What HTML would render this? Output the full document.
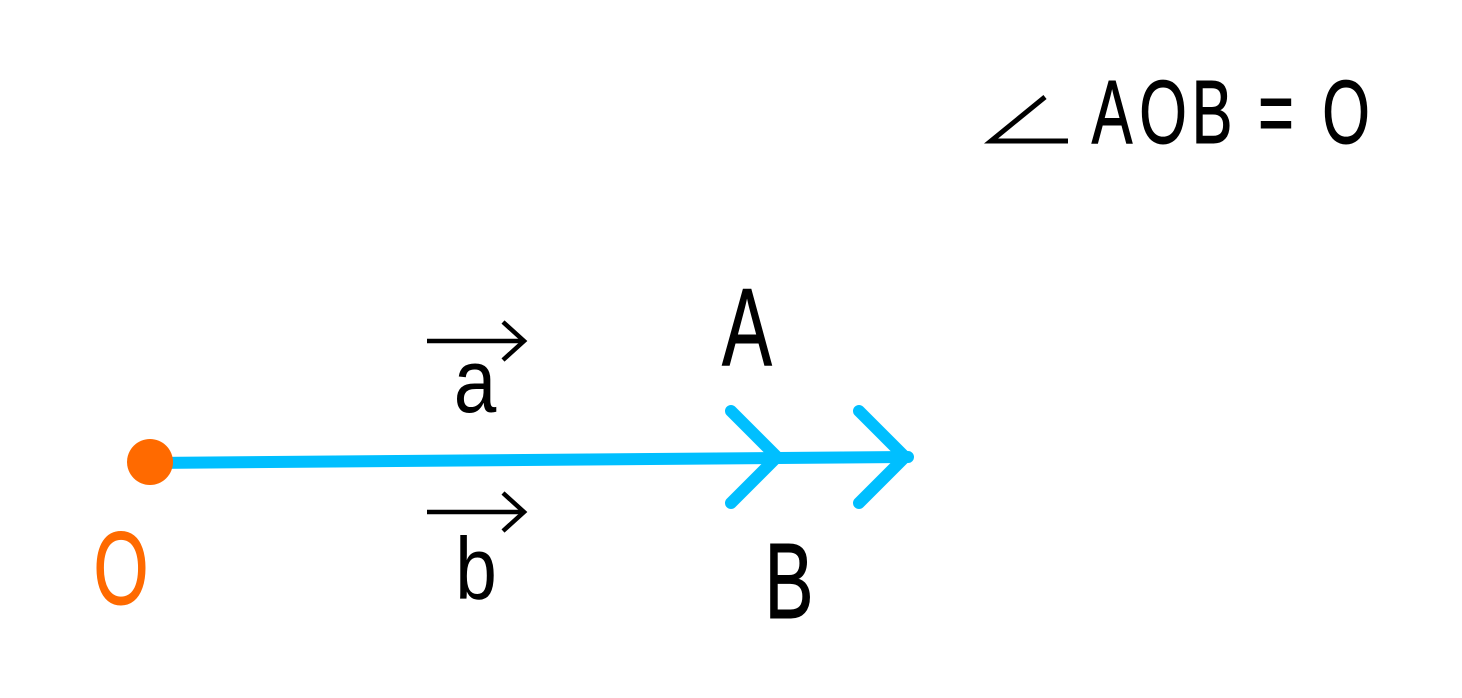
<!DOCTYPE html>
<html><head><meta charset="utf-8"><style>html,body{margin:0;padding:0;background:#fff}svg{display:block}</style></head>
<body>
<svg width="1462" height="698" viewBox="0 0 1462 698" xmlns="http://www.w3.org/2000/svg" font-family="Liberation Sans, sans-serif">
<rect width="1462" height="698" fill="#fff"/>
<polyline points="1045,97 991,141 1068,141" fill="none" stroke="#000" stroke-width="5"/>
<g font-size="90" fill="#000" text-anchor="middle" stroke="#000" stroke-width="1">
<text transform="translate(1112,143) scale(0.68,1)">A</text>
<text transform="translate(1163,143) scale(0.68,1)">O</text>
<text transform="translate(1212,143) scale(0.68,1)">B</text>
<text transform="translate(1276,143) scale(0.68,1)">=</text>
<text transform="translate(1346,143) scale(0.68,1)">O</text>
</g>
<line x1="150" y1="463" x2="908" y2="457" stroke="#00BFFF" stroke-width="12" stroke-linecap="round"/>
<polyline points="731,411 777,457 731,503" fill="none" stroke="#00BFFF" stroke-width="12" stroke-linecap="round" stroke-linejoin="round"/>
<polyline points="859,411 905,457 859,503" fill="none" stroke="#00BFFF" stroke-width="12" stroke-linecap="round" stroke-linejoin="round"/>
<circle cx="150" cy="462" r="23" fill="#FF6A00"/>
<text transform="translate(121,604) scale(0.68,1)" font-size="104" fill="#FF6A00" stroke="#FF6A00" stroke-width="1" text-anchor="middle">O</text>
<text transform="translate(747,365) scale(0.68,1)" font-size="110" fill="#000" stroke="#000" stroke-width="1" text-anchor="middle">A</text>
<text transform="translate(789,618) scale(0.68,1)" font-size="108" fill="#000" stroke="#000" stroke-width="1" text-anchor="middle">B</text>
<text transform="translate(475,412) scale(0.85,1)" font-size="90" fill="#000" text-anchor="middle">a</text>
<text transform="translate(476,599) scale(0.85,1)" font-size="88" fill="#000" text-anchor="middle">b</text>
<g fill="none" stroke="#000" stroke-width="4.5">
<line x1="427" y1="341" x2="524" y2="341"/>
<polyline points="503,322 524,341 503,360"/>
<line x1="427" y1="512" x2="524" y2="512"/>
<polyline points="503,493 524,512 503,531"/>
</g>
</svg>
</body></html>
